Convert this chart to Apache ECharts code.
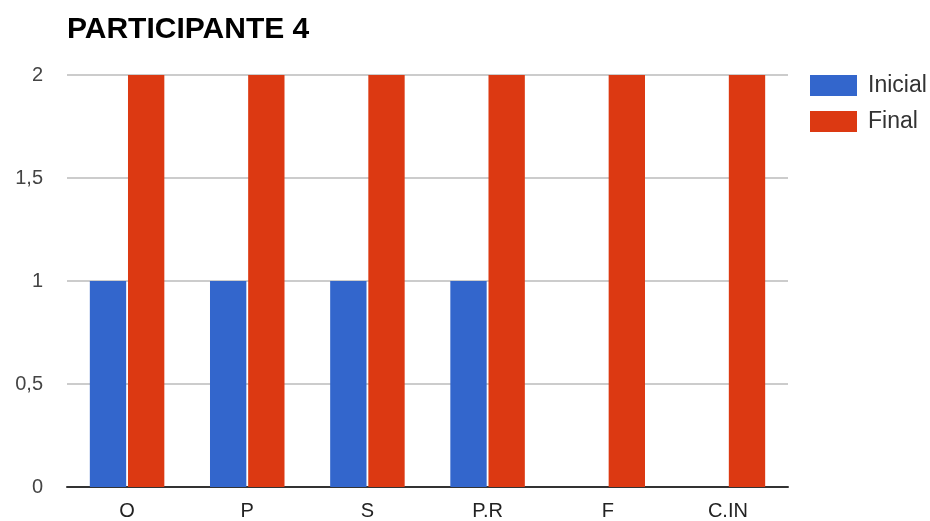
<!DOCTYPE html>
<html>
<head>
<meta charset="utf-8">
<script src="https://cdn.jsdelivr.net/npm/echarts@6/dist/echarts.min.js"></script>
<style>
  html, body { margin: 0; padding: 0; background: #fff; }
  #chart { width: 930px; height: 521px; }
</style>
</head>
<body>
<div id="chart"></div>
<script>
// Categories and scores per participant stage
const categories = ['O', 'P', 'S', 'P.R', 'F', 'C.IN'];
const inicial = [1, 1, 1, 1, 0, 0];
const final = [2, 2, 2, 2, 2, 2];
const yTicks = [0, 0.5, 1, 1.5, 2];

const FONT = '"Liberation Sans", Arial, sans-serif';

const chart = echarts.init(document.getElementById('chart'), null, { renderer: 'canvas' });

chart.setOption({
  animation: false,
  backgroundColor: '#ffffff',
  title: {
    text: 'PARTICIPANTE 4',
    left: 62,
    top: 10,
    textStyle: { fontFamily: FONT, fontSize: 30, fontWeight: 'bold', color: '#000' }
  },
  legend: {
    orient: 'vertical',
    left: 805,
    top: 69,
    itemWidth: 47,
    itemHeight: 21,
    itemGap: 13,
    icon: 'rect',
    textStyle: { fontFamily: FONT, fontSize: 23, color: '#333', padding: [0, 0, 0, 6] },
    data: ['Inicial', 'Final']
  },
  grid: { left: 67, right: 142, top: 75, bottom: 34, containLabel: false },
  xAxis: {
    type: 'category',
    data: categories,
    axisTick: { show: false },
    axisLine: { lineStyle: { color: '#333', width: 2 } },
    axisLabel: { fontFamily: FONT, fontSize: 20, color: '#222', margin: 14 }
  },
  yAxis: {
    type: 'value',
    min: yTicks[0],
    max: yTicks[yTicks.length - 1],
    interval: 0.5,
    axisLine: { show: false },
    axisTick: { show: false },
    splitLine: { lineStyle: { color: '#cccccc', width: 2 } },
    axisLabel: {
      fontFamily: FONT, fontSize: 20, color: '#444', margin: 24,
      formatter: v => String(v).replace('.', ',')
    }
  },
  series: [
    {
      name: 'Inicial',
      type: 'bar',
      data: inicial,
      barGap: '5%',
      barCategoryGap: '38%',
      itemStyle: { color: '#3366cc' }
    },
    {
      name: 'Final',
      type: 'bar',
      data: final,
      itemStyle: { color: '#dc3912' }
    }
  ]
});
</script>
</body>
</html>
